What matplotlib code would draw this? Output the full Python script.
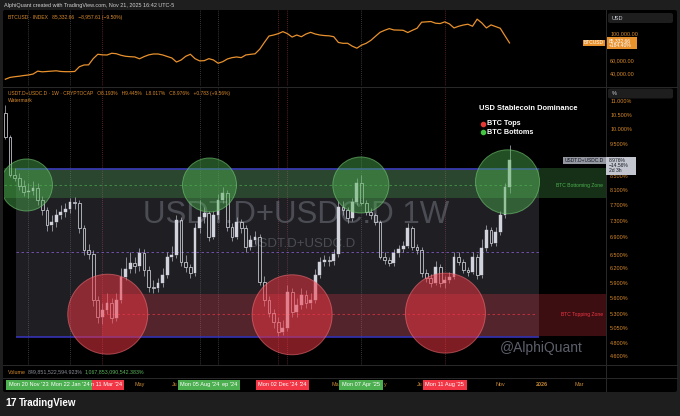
"""USDT.D+USDC.D weekly chart with BTC tops / bottoms, TradingView dark look."""
import matplotlib
matplotlib.use("Agg")  # no display
import matplotlib.pyplot as plt
import matplotlib.dates as mdates
import matplotlib.transforms as mtransforms
from matplotlib.patches import Circle, Rectangle, FancyBboxPatch
from matplotlib.ticker import NullLocator
import numpy as np
import pandas as pd

plt.rcParams["font.family"] = ["Liberation Sans", "DejaVu Sans"]

# ---------------------------------------------------------------- data
week_start = "2023-10-16"

# USDT.D + USDC.D weekly candles (%), Oct '23 .. Nov '25
dom_open = [
    10.56, 9.72, 8.54, 8.45, 8.22, 8.06, 8.08, 8.17, 7.84, 7.57,
    7.19, 7.27, 7.44, 7.52, 7.60, 7.78, 7.76, 7.12, 6.60, 6.51,
    5.56, 5.25, 5.38, 5.51, 5.23, 5.56, 6.02, 6.19, 6.32, 6.25,
    6.54, 6.17, 5.82, 5.80, 5.90, 6.06, 6.45, 6.49, 7.32, 6.34,
    6.23, 6.10, 7.12, 7.39, 7.50, 6.91, 7.44, 7.84, 8.03, 7.15,
    6.91, 7.27, 7.12, 6.67, 6.83, 6.91, 5.92, 5.56, 5.32, 5.16,
    4.99, 5.06, 5.72, 5.34, 5.47, 5.66, 5.51, 5.56, 6.06, 6.34,
    6.38, 6.36, 6.51, 7.65, 7.57, 7.37, 7.78, 8.31, 7.76, 7.52,
    7.44, 7.27, 6.45, 6.38, 6.32, 6.54, 6.63, 6.70, 7.12, 6.67,
    6.60, 6.10, 6.00, 5.90, 6.23, 5.90, 5.96, 6.02, 6.45, 6.34,
    6.17, 6.13, 6.45, 6.06, 6.65, 7.07, 6.76, 7.02, 7.44, 8.193,
]
dom_close = [
    9.72, 8.54, 8.45, 8.22, 8.06, 8.08, 8.17, 7.84, 7.57, 7.19,
    7.27, 7.44, 7.52, 7.60, 7.78, 7.76, 7.12, 6.60, 6.51, 5.56,
    5.25, 5.38, 5.51, 5.23, 5.56, 6.02, 6.19, 6.32, 6.25, 6.54,
    6.17, 5.82, 5.80, 5.90, 6.06, 6.45, 6.49, 7.32, 6.34, 6.23,
    6.10, 7.12, 7.39, 7.50, 6.91, 7.44, 7.84, 8.03, 7.15, 6.91,
    7.27, 7.12, 6.67, 6.83, 6.91, 5.92, 5.56, 5.32, 5.16, 4.99,
    5.06, 5.72, 5.34, 5.47, 5.66, 5.51, 5.56, 6.06, 6.34, 6.38,
    6.36, 6.51, 7.65, 7.57, 7.37, 7.78, 8.31, 7.76, 7.52, 7.44,
    7.27, 6.45, 6.38, 6.32, 6.54, 6.63, 6.70, 7.12, 6.67, 6.60,
    6.10, 6.00, 5.90, 6.23, 5.90, 5.96, 6.02, 6.45, 6.34, 6.17,
    6.13, 6.45, 6.06, 6.65, 7.07, 6.76, 7.02, 7.44, 8.19, 8.976,
]
dom_high = [
    10.85, 9.80, 8.75, 8.60, 8.40, 8.30, 8.35, 8.30, 7.95, 7.65,
    7.45, 7.60, 7.70, 7.75, 7.90, 7.92, 7.85, 7.20, 6.75, 6.60,
    5.65, 5.50, 5.70, 5.60, 5.70, 6.20, 6.45, 6.55, 6.45, 6.65,
    6.62, 6.25, 5.95, 6.00, 6.20, 6.55, 6.70, 7.45, 7.40, 6.50,
    6.30, 7.25, 7.85, 7.65, 7.55, 7.55, 8.00, 8.20, 8.10, 7.25,
    7.40, 7.35, 7.20, 6.95, 7.05, 6.98, 6.05, 5.65, 5.40, 5.25,
    5.20, 5.85, 5.80, 5.60, 5.80, 5.75, 5.70, 6.18, 6.45, 6.50,
    6.48, 6.62, 7.80, 7.80, 7.65, 7.90, 8.45, 8.55, 7.85, 7.62,
    7.50, 7.32, 6.55, 6.45, 6.62, 6.72, 6.80, 7.25, 7.18, 6.75,
    6.68, 6.18, 6.08, 6.35, 6.30, 6.05, 6.12, 6.55, 6.55, 6.40,
    6.22, 6.55, 6.52, 6.85, 7.20, 7.15, 7.15, 7.55, 8.30, 9.445,
]
dom_low = [
    9.65, 8.48, 8.35, 8.12, 7.95, 7.90, 7.98, 7.70, 7.45, 7.05,
    7.05, 7.15, 7.35, 7.40, 7.50, 7.60, 7.00, 6.50, 6.40, 5.45,
    5.15, 5.12, 5.30, 5.15, 5.18, 5.50, 5.95, 6.10, 6.10, 6.15,
    6.05, 5.72, 5.70, 5.72, 5.82, 6.00, 6.35, 6.42, 6.25, 6.12,
    6.00, 6.05, 7.00, 7.25, 6.80, 6.85, 7.35, 7.75, 7.05, 6.80,
    6.85, 7.00, 6.55, 6.60, 6.75, 5.85, 5.45, 5.25, 5.05, 4.92,
    4.93, 5.00, 5.25, 5.25, 5.40, 5.42, 5.40, 5.50, 6.00, 6.25,
    6.25, 6.28, 6.45, 7.45, 7.25, 7.30, 7.70, 7.70, 7.45, 7.35,
    7.20, 6.40, 6.30, 6.25, 6.25, 6.45, 6.55, 6.65, 6.60, 6.52,
    6.02, 5.92, 5.82, 5.85, 5.82, 5.80, 5.90, 5.98, 6.28, 6.10,
    6.05, 6.08, 5.98, 6.00, 6.58, 6.70, 6.70, 6.95, 7.38, 8.017,
]

# BTCUSD weekly close, thousands of USD
btc_close_k = [
    31.5, 34.2, 35.2, 36.0, 37.0, 37.8, 39.2, 43.5, 42.5, 43.0,
    43.5, 44.0, 43.0, 42.7, 42.7, 43.0, 50.0, 52.6, 52.8, 62.0,
    68.5, 67.6, 67.4, 70.0, 69.3, 67.0, 65.5, 64.9, 64.5, 61.8,
    65.0, 67.6, 68.9, 68.9, 67.5, 65.2, 63.0, 57.0, 60.0, 65.5,
    68.5, 62.0, 58.7, 59.0, 62.0, 60.0, 55.2, 57.5, 61.5, 63.5,
    64.5, 63.5, 67.5, 68.4, 69.2, 76.0, 86.0, 95.5, 97.0, 99.0,
    102.0, 99.0, 94.0, 97.0, 94.5, 98.5, 101.0, 98.5, 97.0, 96.2,
    95.8, 94.5, 86.0, 84.7, 84.8, 80.5, 77.5, 82.0, 84.7, 89.0,
    95.0, 101.0, 104.0, 106.5, 104.5, 104.3, 104.0, 100.7, 104.0, 107.0,
    116.0, 116.5, 117.0, 114.5, 114.0, 116.5, 113.5, 107.5, 110.0, 111.8,
    113.0, 110.0, 120.5, 115.0, 107.5, 112.0, 109.5, 107.0, 96.0, 85.33266,
]

# zones (%)
range_box = ("2023-11-01", "2025-12-31", 4.90, 8.70)
range_mid = 6.55
bottom_zone = ("2023-10-14", 7.90, 8.75, 8.25)   # start, low, high, mid line
top_zone = ("2024-03-11", 4.92, 5.68, 5.30)

# BTC bottoms (green) / tops (red) circles: date, level
green_dates = ["2023-11-17", "2024-08-20", "2025-04-06", "2025-11-14"]
green_levels = [8.25, 8.25, 8.25, 8.34]
red_dates = ["2024-03-19", "2024-12-23", "2025-08-12"]
red_levels = [5.30, 5.29, 5.32]

# marked dates on the time axis; the shown text is what stays visible
# once the earlier label box covers the next one
mark_dates = ["2023-11-20", "2024-01-22", "2024-03-11", "2024-08-05", "2024-09-02",
              "2024-12-02", "2024-12-16", "2025-04-07", "2025-08-11"]
mark_kind = ["bottom", "bottom", "top", "bottom", "bottom", "top", "top", "bottom", "top"]
mark_shown = ["Mon 20 Nov '23", "Mon 22 Jan '24", "n 11 Mar '24", "Mon 05 Aug '24",
              "ep '24", "Mon 02 Dec '24", "'24", "Mon 07 Apr '25", "Mon 11 Aug '25"]
mark_clipped = [False, False, True, False, True, False, True, False, False]

month_labels = ["May", "Nov", "2026", "Mar"]
month_dates = ["2024-05-06", "2025-11-03", "2026-01-05", "2026-03-02"]
# month labels partly hidden behind a box: text, box index, side
month_cut = [("Ju", 3, "left"), ("Ma", 7, "left"), ("y", 7, "right"), ("Ju", 8, "left")]

dom_ticks = [4.6, 4.8, 5.05, 5.3, 5.6, 5.9, 6.2, 6.5, 6.9, 7.3, 7.7, 8.1, 8.5,
             9.5, 10.0, 10.5, 11.0]
btc_ticks = [40000, 60000, 100000]

# ---------------------------------------------------------------- style
W, H = 680, 416
ORANGE = "#d98b2b"
CANDLE = "#d1d4dc"
WICK = "#a8abb4"
GREEN = "#4caf50"
RED = "#f23645"
SEP = "#2a2a2a"

fig = plt.figure(figsize=(W / 100, H / 100), dpi=100, facecolor="#1e1e1e")


def px_rect(x0, y0, x1, y1):
    return [x0 / W, 1 - y1 / H, (x1 - x0) / W, (y1 - y0) / H]


def ftext(x, y, s, **kw):
    kw.setdefault("va", "center")
    kw.setdefault("zorder", 8)
    return fig.text(x / W, 1 - y / H, s, **kw)


def fbox(x0, y0, x1, y1, fc, z=6, rounded=False):
    if rounded:
        p = FancyBboxPatch((x0 / W, 1 - y1 / H), (x1 - x0) / W, (y1 - y0) / H,
                           boxstyle="round,pad=0,rounding_size=0.004",
                           transform=fig.transFigure, fc=fc, ec="none", zorder=z)
    else:
        p = Rectangle((x0 / W, 1 - y1 / H), (x1 - x0) / W, (y1 - y0) / H,
                      transform=fig.transFigure, fc=fc, ec="none", zorder=z)
    fig.add_artist(p)


def fline(x0, y0, x1, y1, color=SEP, lw=0.7):
    fig.add_artist(plt.Line2D([x0 / W, x1 / W], [1 - y0 / H, 1 - y1 / H],
                              transform=fig.transFigure, color=color, lw=lw, zorder=1))


# chart canvas
fbox(3, 10, 677, 392, "black", z=-5, rounded=True)

weeks = pd.date_range(week_start, periods=len(dom_close), freq="W-MON")
x = mdates.date2num(weeks)
xlim = mdates.date2num(pd.to_datetime(["2023-10-14", "2026-04-12"]))

ax_btc = fig.add_axes(px_rect(4, 10, 606, 86))
ax = fig.add_axes(px_rect(4, 87, 606, 365))
for a in (ax_btc, ax):
    a.set_facecolor("black")
    a.set_autoscale_on(False)
    for s in a.spines.values():
        s.set_visible(False)
    a.set_xticks([])
    a.yaxis.tick_right()
    a.tick_params(axis="y", length=0, pad=3, labelsize=3.9, labelcolor=ORANGE)

# ---------------------------------------------------------------- BTC pane
btc = np.array(btc_close_k) * 1000
ax_btc.plot(x, btc, color="#e8912d", lw=0.9)
ax_btc.set_yticks(btc_ticks)
ax_btc.set_yticklabels([f"{v:,.2f}" for v in btc_ticks])
ax_btc.set_xlim(*xlim)
ax_btc.set_ylim(21480, 134070)

# ---------------------------------------------------------------- main pane
ax.set_yscale("log")
ax.set_xlim(*xlim)
ax.set_ylim(4.454, 11.54)
ax.set_yticks(dom_ticks)
ax.set_yticklabels([f"{v:.3f}%" for v in dom_ticks])
ax.yaxis.set_minor_locator(NullLocator())

# range box
bx0, bx1 = mdates.date2num(pd.to_datetime(range_box[:2]))
ax.fill_between([bx0, bx1], range_box[2], range_box[3], color="#787b8f", alpha=0.25,
                lw=0, zorder=1)
ax.hlines([range_box[2], range_box[3]], bx0, bx1, color="#3a36c4", lw=1.1, zorder=2)
ax.hlines(range_mid, bx0, bx1, color="#7e57c2", lw=0.6, linestyles=(0, (3, 3)), zorder=2)

# bottoming / topping zones
gz0 = mdates.date2num(pd.Timestamp(bottom_zone[0]))
ax.fill_between([gz0, xlim[1]], bottom_zone[1], bottom_zone[2], color=GREEN, alpha=0.28,
                lw=0, zorder=1)
ax.hlines(bottom_zone[3], gz0, mdates.date2num(pd.Timestamp("2025-12-22")), color=GREEN,
          alpha=0.75, lw=0.6, linestyles=(0, (3, 3)), zorder=2)
rz0 = mdates.date2num(pd.Timestamp(top_zone[0]))
ax.fill_between([rz0, xlim[1]], top_zone[1], top_zone[2], color=RED, alpha=0.25,
                lw=0, zorder=1)
ax.hlines(top_zone[3], rz0, mdates.date2num(pd.Timestamp("2025-12-29")), color=RED,
          alpha=0.75, lw=0.6, linestyles=(0, (3, 3)), zorder=2)
ax.text(0.995, bottom_zone[3], "BTC Bottoming Zone", transform=ax.get_yaxis_transform(),
        ha="right", va="center", fontsize=3.6, color=GREEN, zorder=6)
ax.text(0.995, top_zone[3], "BTC Topping Zone", transform=ax.get_yaxis_transform(),
        ha="right", va="center", fontsize=3.6, color=RED, zorder=6)

# watermark
ax.text(0.485, 0.54, "USDT.D+USDC.D 1W", transform=ax.transAxes, ha="center", va="center",
        fontsize=22.5, color="#787b86", alpha=0.5, zorder=1.5)
ax.text(0.495, 0.435, "USDT.D+USDC.D", transform=ax.transAxes, ha="center", va="center",
        fontsize=9.5, color="#787b86", alpha=0.5, zorder=1.5)

# vertical marker lines (both panes)
for d, k in zip(mark_dates, mark_kind):
    xd = mdates.date2num(pd.Timestamp(d))
    col = "#7a2a32" if k == "top" else "#4a4a4a"
    for a in (ax_btc, ax):
        a.axvline(xd, color=col, lw=0.6, ls=(0, (1, 1.5)), zorder=0.5)

# candles
o, c = np.array(dom_open), np.array(dom_close)
hi, lo = np.array(dom_high), np.array(dom_low)
up = c >= o
b_lo, b_hi = np.minimum(o, c), np.maximum(o, c)
bw = 7 * 0.6
ax.vlines(x, b_hi, hi, color=WICK, lw=0.55, zorder=3)
ax.vlines(x, lo, b_lo, color=WICK, lw=0.55, zorder=3)
ax.bar(x[up], (b_hi - b_lo)[up], bottom=b_lo[up], width=bw, color=CANDLE,
       edgecolor=CANDLE, lw=0.3, zorder=3)
ax.bar(x[~up], (b_hi - b_lo)[~up], bottom=b_lo[~up], width=bw, facecolor="none",
       edgecolor=CANDLE, lw=0.55, zorder=3)


# circles, round in pixels, centred on a date / level
def px_circle(d, level, r_px, fc, ec):
    tr = fig.dpi_scale_trans + mtransforms.ScaledTranslation(
        mdates.date2num(pd.Timestamp(d)), level, ax.transData)
    circ = Circle((0, 0), r_px / fig.dpi, transform=tr, facecolor=fc, edgecolor=ec,
                  lw=0.7, zorder=4)
    ax.add_artist(circ)
    circ.set_clip_path(ax.patch)


for d, lv, r in zip(green_dates, green_levels, [26, 27, 28, 32]):
    px_circle(d, lv, r, (0.30, 0.69, 0.31, 0.45), (0.45, 0.78, 0.45, 0.6))
for d, lv in zip(red_dates, red_levels):
    px_circle(d, lv, 40, (0.95, 0.21, 0.27, 0.52), (0.97, 0.45, 0.48, 0.55))

# legend block
ax.text(0.789, 0.921, "USD Stablecoin Dominance", transform=ax.transAxes, fontsize=5.4,
        fontweight="bold", color="white", va="center", zorder=6)
ax.scatter([0.7955], [0.867], s=9, color="#e53935", transform=ax.transAxes, zorder=6)
ax.scatter([0.7955], [0.838], s=9, color="#43c443", transform=ax.transAxes, zorder=6)
ax.text(0.803, 0.867, "BTC Tops", transform=ax.transAxes, fontsize=5.2,
        fontweight="bold", color="white", va="center", zorder=6)
ax.text(0.803, 0.838, "BTC Bottoms", transform=ax.transAxes, fontsize=5.2,
        fontweight="bold", color="white", va="center", zorder=6)
ax.text(0.893, 0.061, "@AlphiQuant", transform=ax.transAxes, ha="center", va="center",
        fontsize=10, color="#5d606b", zorder=6)

ax.set_xlim(*xlim)
ax.set_ylim(4.454, 11.54)

# ---------------------------------------------------------------- frame / separators
fline(3, 86.5, 677, 86.5)
fline(3, 365, 677, 365)
fline(3, 378, 677, 378)
fline(606, 10, 606, 391)

# top strip and pane headers
ftext(4, 5, "AlphiQuant created with TradingView.com, Nov 21, 2025 16:42 UTC-5",
      fontsize=4, color="#cfcfcf")
ftext(8, 17, "BTCUSD \u00b7 INDEX   85,332.66   \u22128,957.61 (\u22129.50%)",
      fontsize=3.6, color=ORANGE)
ftext(8, 93, "USDT.D+USDC.D \u00b7 1W \u00b7 CRYPTOCAP   O8.193%   H9.445%   L8.017%   "
      "C8.976%   +0.783 (+9.56%)", fontsize=3.55, color=ORANGE)
ftext(8, 100, "Watermark", fontsize=3.6, color=ORANGE)

# price scale headers
fbox(608, 13, 673, 23, "#1e1e1e", rounded=True)
ftext(612, 18, "USD", fontsize=4, color="#d1d4dc")
fbox(608, 88.5, 673, 98.5, "#1e1e1e", rounded=True)
ftext(612, 93.5, "%", fontsize=4, color="#d1d4dc")

# last value tags, placed at the series' last values
fig.canvas.draw()
yb = H - ax_btc.transData.transform((xlim[0], btc[-1]))[1]
fbox(583, yb - 3.2, 605, yb + 3.2, "#e8912d")
ftext(594, yb, "BTCUSD", fontsize=3.5, color="white", ha="center")
fbox(607, yb - 6, 637, yb + 6, "#e8912d")
ftext(609, yb - 2.6, f"{btc[-1]:,.2f}", fontsize=3.6, color="white")
ftext(609, yb + 2.6, "+184.40%", fontsize=3.6, color="white")

yd = H - ax.transData.transform((xlim[0], dom_close[-1]))[1]
fbox(563, yd - 3.2, 606, yd + 3.2, "#9598a1")
ftext(584.5, yd, "USDT.D+USDC.D", fontsize=3.5, color="#131722", ha="center")
fbox(606, yd - 3.5, 636, yd + 15, "#c3c6ce")
ftext(609, yd, f"{dom_close[-1]:.3f}%", fontsize=3.6, color="#131722")
ftext(609, yd + 5, "\u221214.56%", fontsize=3.6, color="#131722")
ftext(609, yd + 10, "2d 3h", fontsize=3.6, color="#131722")

# volume row
ftext(8, 372, "Volume", fontsize=3.8, color=ORANGE)
ftext(28, 372, "849,851,522,594.923%", fontsize=3.8, color="#8a8d96")
ftext(85, 372, "1,067,853,090,542.383%", fontsize=3.8, color="#5cb85c")

# time axis: label boxes 44 px wide, earlier dates sit on top
BOX_W = 44
ty0, ty1 = 379.5, 389.5
tyc = (ty0 + ty1) / 2
to_px = lambda d: ax.transData.transform((mdates.date2num(pd.Timestamp(d)), 5))[0]
centres = [to_px(d) for d in mark_dates]
for i, (cx, k) in enumerate(zip(centres, mark_kind)):
    fbox(cx - BOX_W / 2, ty0, cx + BOX_W / 2, ty1, GREEN if k == "bottom" else RED,
         z=20 - i)
for cx, s, cut in zip(centres, mark_shown, mark_clipped):
    if cut:
        ftext(cx + BOX_W / 2 - 2.5, tyc, s, fontsize=4.1, color="white", ha="right",
              zorder=30)
    else:
        ftext(cx, tyc, s, fontsize=4.1, color="white", ha="center", zorder=30)

for lab, d in zip(month_labels, month_dates):
    ftext(to_px(d), tyc, lab, ha="center", fontsize=3.9, color="#c98a35",
          fontweight="bold" if lab.isdigit() else "normal", zorder=3)
for s, idx, side in month_cut:
    if side == "left":
        ftext(centres[idx] - BOX_W / 2 - 0.5, tyc, s, ha="right", fontsize=3.9,
              color="#c98a35", zorder=3)
    else:
        ftext(centres[idx] + BOX_W / 2 + 0.5, tyc, s, ha="left", fontsize=3.9,
              color="#c98a35", zorder=3)

# bottom bar
ftext(5, 403.5, "17", fontsize=7.5, fontweight="bold", color="white")
ftext(19, 403.5, "TradingView", fontsize=7, fontweight="bold", color="white")

fig.savefig("out.png", dpi=100, facecolor=fig.get_facecolor())
